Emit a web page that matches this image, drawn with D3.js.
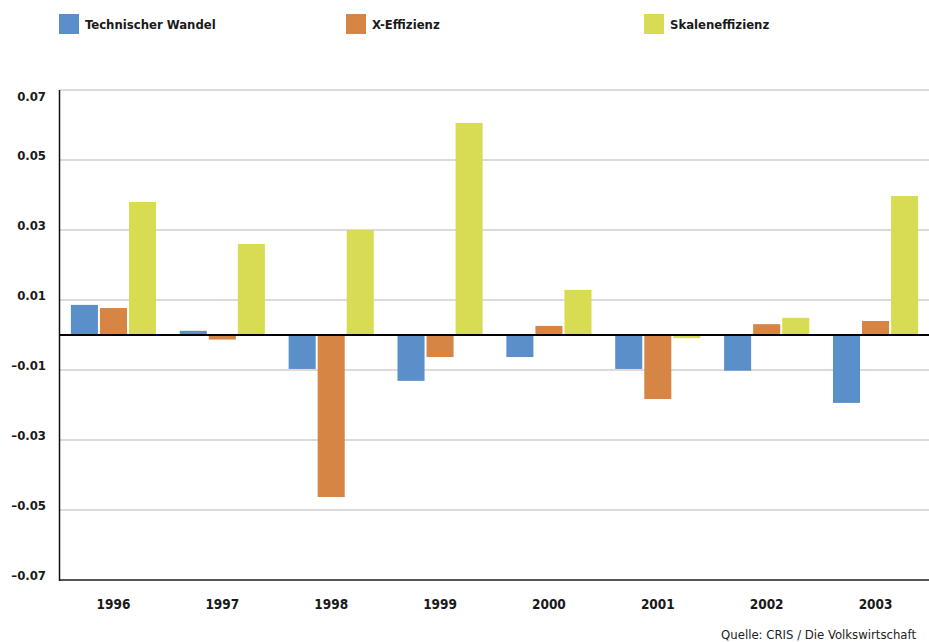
<!DOCTYPE html>
<html>
<head>
<meta charset="utf-8">
<script src="https://cdn.jsdelivr.net/npm/d3@7"></script>
<style>
  body { margin: 0; background: #fff; }
  svg text { font-family: "DejaVu Sans Condensed", "DejaVu Sans", sans-serif; }
</style>
</head>
<body>
<div id="container"></div>
<script>
// data
const years = ['1996', '1997', '1998', '1999', '2000', '2001', '2002', '2003'];
const seriesNames = ['Technischer Wandel', 'X-Effizienz', 'Skaleneffizienz'];
const technischerWandel = [0.0086, 0.0012, -0.0097, -0.0131, -0.0063, -0.0097, -0.0102, -0.0194];
const xEffizienz = [0.0077, -0.0013, -0.0463, -0.0063, 0.0026, -0.0183, 0.0031, 0.0040];
const skaleneffizienz = [0.0380, 0.0260, 0.0300, 0.0606, 0.0129, -0.0009, 0.0049, 0.0397];
const yTicks = [0.07, 0.05, 0.03, 0.01, -0.01, -0.03, -0.05, -0.07];
const colors = ['#5b8fc9', '#d68545', '#d8dc52'];

const width = 929, height = 642,
  margin = { top: 90, bottom: 62, left: 60, right: 0 };

const values = [technischerWandel, xEffizienz, skaleneffizienz];

const svg = d3.select('#container')
  .append('svg')
  .attr('width', width)
  .attr('height', height);

const x0 = d3.scaleBand()
  .domain(years)
  .range([margin.left, width - margin.right])
  .paddingInner(0.218)
  .paddingOuter(0.1);

const x1 = d3.scaleBand()
  .domain(seriesNames)
  .range([0, x0.bandwidth()])
  .paddingInner(2 / 29);

const y = d3.scaleLinear()
  .domain([-0.07, 0.07])
  .range([height - margin.bottom, margin.top]);

// gridlines
svg.append('g')
  .selectAll('line')
  .data(yTicks)
  .join('line')
  .attr('x1', margin.left)
  .attr('x2', width)
  .attr('y1', d => y(d))
  .attr('y2', d => y(d))
  .attr('stroke', '#cfcfcf')
  .attr('stroke-width', 1.5);

// y labels
const fmt = d => (d < 0 ? '\u2013' : '') + d3.format('.2f')(Math.abs(d));
svg.append('g')
  .selectAll('text')
  .data(yTicks)
  .join('text')
  .attr('x', 46)
  .attr('y', d => Math.max(y(d), margin.top + 11))
  .attr('text-anchor', 'end')
  .attr('font-size', 13)
  .attr('font-weight', 'bold')
  .attr('fill', '#1a1a1a')
  .text(d => fmt(d));

// bars
const groups = svg.append('g')
  .selectAll('g')
  .data(years)
  .join('g')
  .attr('transform', d => `translate(${x0(d)},0)`);

groups.selectAll('rect')
  .data((d, i) => seriesNames.map((s, j) => ({ s, j, v: values[j][i] })))
  .join('rect')
  .attr('x', d => x1(d.s))
  .attr('width', x1.bandwidth())
  .attr('y', d => y(Math.max(0, d.v)))
  .attr('height', d => Math.abs(y(d.v) - y(0)))
  .attr('fill', d => colors[d.j]);

// zero line
svg.append('line')
  .attr('x1', margin.left).attr('x2', width)
  .attr('y1', y(0)).attr('y2', y(0))
  .attr('stroke', '#000').attr('stroke-width', 2);

// axis lines
svg.append('line')
  .attr('x1', margin.left).attr('x2', width)
  .attr('y1', y(-0.07)).attr('y2', y(-0.07))
  .attr('stroke', '#555').attr('stroke-width', 2);
svg.append('line')
  .attr('x1', margin.left - 0.5).attr('x2', margin.left - 0.5)
  .attr('y1', y(0.07)).attr('y2', y(-0.07) + 1)
  .attr('stroke', '#111').attr('stroke-width', 1.5);

// x labels
svg.append('g')
  .selectAll('text')
  .data(years)
  .join('text')
  .attr('x', d => x0(d) + x0.bandwidth() / 2)
  .attr('y', 609)
  .attr('text-anchor', 'middle')
  .attr('font-size', 13.5)
  .attr('font-weight', 'bold')
  .attr('fill', '#1a1a1a')
  .text(d => d);

// legend
const legendX = [59, 346, 644];
const legend = svg.append('g')
  .selectAll('g')
  .data(seriesNames)
  .join('g')
  .attr('transform', (d, i) => `translate(${legendX[i]},14)`);
legend.append('rect')
  .attr('width', 20).attr('height', 20)
  .attr('fill', (d, i) => colors[i]);
legend.append('text')
  .attr('x', 26).attr('y', 15)
  .attr('font-size', 13)
  .attr('font-weight', 'bold')
  .attr('fill', '#1a1a1a')
  .text(d => d);

// source
svg.append('text')
  .attr('x', 916).attr('y', 639)
  .attr('text-anchor', 'end')
  .attr('font-size', 13)
  .attr('fill', '#222')
  .text('Quelle: CRIS / Die Volkswirtschaft');
</script>
</body>
</html>
